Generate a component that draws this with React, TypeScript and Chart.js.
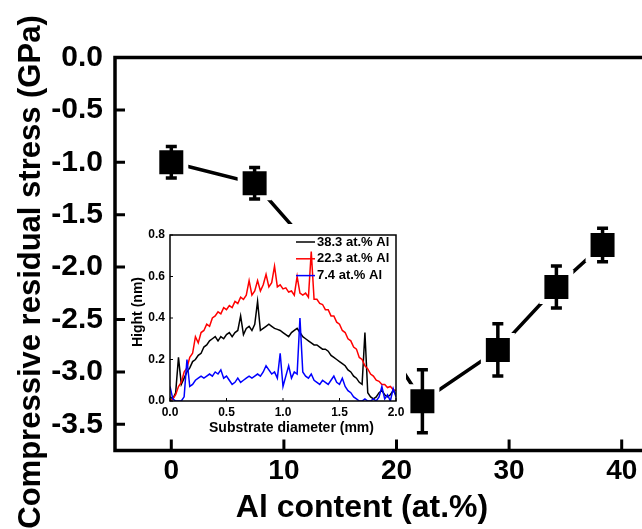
import React, { useEffect, useRef } from "react";
import { Chart, registerables } from "chart.js";

Chart.register(...registerables);

const FONT = "'Liberation Sans', Arial, Helvetica, sans-serif";

// Residual stress of the films against their Al content
const alContent = [0, 7.4, 16.4, 22.3, 29.0, 34.2, 38.3];
const stress = [-1.0, -1.2, -2.3, -3.28, -2.79, -2.19, -1.79];
const stressErr = [0.15, 0.15, 0.2, 0.3, 0.25, 0.2, 0.16];
const xTickValues = [0, 10, 20, 30, 40];
const yTickValues = [0, -0.5, -1.0, -1.5, -2.0, -2.5, -3.0, -3.5];

// Surface height profiles across the substrate (inset)
const diameterMm = [
  0, 0.025, 0.05, 0.075, 0.1, 0.125, 0.15, 0.175, 0.2, 0.225,
  0.25, 0.275, 0.3, 0.325, 0.35, 0.375, 0.4, 0.425, 0.45, 0.475,
  0.5, 0.525, 0.55, 0.575, 0.6, 0.625, 0.65, 0.675, 0.7, 0.725,
  0.75, 0.775, 0.8, 0.825, 0.85, 0.875, 0.9, 0.925, 0.95, 0.975,
  1.0, 1.025, 1.05, 1.075, 1.1, 1.125, 1.15, 1.175, 1.2, 1.225,
  1.25, 1.275, 1.3, 1.325, 1.35, 1.375, 1.4, 1.425, 1.45, 1.475,
  1.5, 1.525, 1.55, 1.575, 1.6, 1.625, 1.65, 1.675, 1.7, 1.725,
  1.75, 1.775, 1.8, 1.825, 1.85, 1.875, 1.9, 1.925, 1.95, 1.975,
  2.0,
];
const height383 = [
  0.02, 0.01, 0.04, 0.21, 0.08, 0.11, 0.14, 0.16, 0.19, 0.2,
  0.22, 0.23, 0.26, 0.27, 0.29, 0.3, 0.31, 0.29, 0.31, 0.3,
  0.32, 0.33, 0.31, 0.33, 0.34, 0.41, 0.32, 0.35, 0.36, 0.34,
  0.37, 0.48, 0.34, 0.35, 0.36, 0.37, 0.36, 0.35, 0.345, 0.34,
  0.33, 0.32, 0.31, 0.33, 0.34, 0.35, 0.33, 0.31, 0.3, 0.29,
  0.28, 0.27, 0.27, 0.26, 0.25, 0.25, 0.24, 0.22, 0.21, 0.2,
  0.19, 0.18, 0.17, 0.15, 0.14, 0.12, 0.11, 0.09, 0.08, 0.33,
  0.04, 0.02, 0.01, 0.02, 0.04, 0.05, 0.03, 0.02, 0.03, 0.05,
  0.03,
];
const height223 = [
  0.0, 0.01, 0.03, 0.07, 0.09, 0.14, 0.16, 0.21, 0.23, 0.31,
  0.28, 0.33, 0.34, 0.37, 0.36, 0.4, 0.41, 0.43, 0.42, 0.45,
  0.44, 0.46, 0.45, 0.48, 0.47, 0.5, 0.49, 0.51, 0.58, 0.51,
  0.53, 0.58, 0.53, 0.56, 0.61, 0.55, 0.57, 0.65, 0.55, 0.56,
  0.54, 0.545, 0.525, 0.53, 0.51, 0.6, 0.52, 0.51, 0.52, 0.5,
  0.72, 0.49, 0.49, 0.47, 0.465, 0.44, 0.44, 0.41, 0.41, 0.38,
  0.37, 0.34, 0.33, 0.3, 0.29, 0.26, 0.25, 0.21, 0.2, 0.17,
  0.155, 0.13, 0.12, 0.1, 0.095, 0.08, 0.08, 0.065, 0.07, 0.055,
  0.05,
];
const height74 = [
  0.07, 0.01, 0.0, 0.0, 0.0, 0.02, 0.2, 0.07, 0.08, 0.1,
  0.11, 0.12, 0.11, 0.12, 0.13, 0.12, 0.14, 0.13, 0.15, 0.11,
  0.12, 0.1, 0.08, 0.09, 0.11, 0.09, 0.1, 0.11, 0.12, 0.11,
  0.12, 0.13, 0.12, 0.14, 0.17, 0.15, 0.13, 0.14, 0.11, 0.23,
  0.07, 0.12, 0.17, 0.11, 0.14, 0.13, 0.4, 0.14, 0.12, 0.11,
  0.13, 0.1, 0.09, 0.08, 0.1, 0.09, 0.08, 0.1, 0.12, 0.09,
  0.08, 0.11, 0.07, 0.05, 0.04, 0.02, 0.01, 0.0, 0.0, 0.01,
  0.0, 0.0, 0.01, 0.0, 0.02, 0.07, 0.01, 0.03, 0.0, 0.06,
  0.02,
];
const insetXTicks = [0, 0.5, 1.0, 1.5, 2.0];
const insetYTicks = [0, 0.2, 0.4, 0.6, 0.8];
const profileLabels = ["38.3 at.% Al", "22.3 at.% Al", "7.4 at.% Al"];
const profileColors = ["#000000", "#ff0000", "#0000ff"];

// keep the plot area exactly where the layout padding puts it
const noScalePadding = (s: any) => {
  s.paddingLeft = 0;
  s.paddingRight = 0;
  s.paddingTop = 0;
  s.paddingBottom = 0;
};

const mainDecor = {
  id: "mainDecor",
  afterDatasetsDraw(chart: any) {
    const { ctx, scales } = chart;
    const xs = scales.x;
    const ys = scales.y;
    ctx.save();
    ctx.strokeStyle = "#000";
    ctx.lineWidth = 3.5;
    ctx.lineCap = "butt";
    for (let i = 0; i < alContent.length; i++) {
      const x = xs.getPixelForValue(alContent[i]);
      const yT = ys.getPixelForValue(stress[i] + stressErr[i]);
      const yB = ys.getPixelForValue(stress[i] - stressErr[i]);
      ctx.beginPath();
      ctx.moveTo(x, yT);
      ctx.lineTo(x, yB);
      ctx.moveTo(x - 5.5, yT);
      ctx.lineTo(x + 5.5, yT);
      ctx.moveTo(x - 5.5, yB);
      ctx.lineTo(x + 5.5, yB);
      ctx.stroke();
    }
    ctx.restore();
  },
  afterDraw(chart: any) {
    const { ctx, chartArea: a, scales } = chart;
    ctx.save();
    ctx.strokeStyle = "#000";
    ctx.lineWidth = 3.5;
    ctx.strokeRect(a.left, a.top, a.right - a.left, a.bottom - a.top);
    ctx.lineWidth = 3;
    ctx.beginPath();
    for (const t of scales.y.ticks) {
      const y = scales.y.getPixelForValue(t.value);
      ctx.moveTo(a.left, y);
      ctx.lineTo(a.left + 10, y);
    }
    for (const t of scales.x.ticks) {
      const x = scales.x.getPixelForValue(t.value);
      ctx.moveTo(x, a.bottom);
      ctx.lineTo(x, a.bottom - 11);
    }
    ctx.stroke();

    ctx.fillStyle = "#000";
    ctx.textAlign = "center";
    ctx.textBaseline = "middle";
    ctx.font = `bold 32px ${FONT}`;
    ctx.fillText("Al content (at.%)", 362, 508);
    ctx.translate(31, 272);
    ctx.rotate(-Math.PI / 2);
    ctx.font = `bold 31px ${FONT}`;
    ctx.fillText("Compressive residual stress (GPa)", 0, 0);
    ctx.restore();
  },
};

const insetDecor = {
  id: "insetDecor",
  afterDraw(chart: any) {
    const { ctx, chartArea: a, scales } = chart;
    ctx.save();
    ctx.strokeStyle = "#000";
    ctx.lineWidth = 1.5;
    ctx.strokeRect(a.left, a.top, a.right - a.left, a.bottom - a.top);
    ctx.lineWidth = 1;
    ctx.beginPath();
    for (const t of scales.y.ticks) {
      const y = scales.y.getPixelForValue(t.value);
      ctx.moveTo(a.left, y);
      ctx.lineTo(a.left + 3, y);
    }
    for (const t of scales.x.ticks) {
      const x = scales.x.getPixelForValue(t.value);
      ctx.moveTo(x, a.bottom);
      ctx.lineTo(x, a.bottom - 3);
    }
    ctx.stroke();

    ctx.fillStyle = "#000";
    ctx.textAlign = "center";
    ctx.textBaseline = "middle";
    ctx.font = `bold 14px ${FONT}`;
    ctx.fillText("Substrate diameter (mm)", 164.5, 204);

    // legend
    ctx.font = `bold 13px ${FONT}`;
    ctx.textAlign = "left";
    ctx.lineWidth = 1.5;
    profileLabels.forEach((label, i) => {
      const y = 18 + i * 16.8;
      ctx.strokeStyle = profileColors[i];
      ctx.beginPath();
      ctx.moveTo(169, y);
      ctx.lineTo(188, y);
      ctx.stroke();
      ctx.fillText(label, 190, y);
    });

    ctx.textAlign = "center";
    ctx.translate(11, 88);
    ctx.rotate(-Math.PI / 2);
    ctx.font = `bold 14px ${FONT}`;
    ctx.fillText("Hight (nm)", 0, 0);
    ctx.restore();
  },
};

export default function App() {
  const mainRef = useRef<HTMLCanvasElement>(null);
  const insetRef = useRef<HTMLCanvasElement>(null);

  useEffect(() => {
    const main = new Chart(mainRef.current as HTMLCanvasElement, {
      type: "line",
      data: {
        datasets: [
          {
            data: alContent.map((x, i) => ({ x, y: stress[i] })),
            borderColor: "#000",
            borderWidth: 3.5,
            tension: 0,
            pointStyle: "rect",
            pointRadius: 20.5,
            pointBackgroundColor: "#000",
            pointBorderColor: "#fff",
            pointBorderWidth: 5,
          },
        ],
      },
      options: {
        responsive: false,
        animation: false,
        devicePixelRatio: 1,
        layout: { autoPadding: false, padding: { top: 57.5, right: 12, left: 0, bottom: 0 } },
        plugins: { legend: { display: false }, tooltip: { enabled: false } },
        scales: {
          x: {
            type: "linear",
            min: -5,
            max: 45,
            grid: { display: false, drawTicks: false },
            border: { display: false },
            afterBuildTicks: (s: any) => {
              s.ticks = xTickValues.map((v) => ({ value: v }));
            },
            afterFit: (s: any) => {
              s.height = 78.5;
              noScalePadding(s);
            },
            ticks: {
              color: "#000",
              padding: 3.5,
              maxRotation: 0,
              font: { family: FONT, size: 28, weight: "bold" },
              callback: (v: any) => String(v),
            },
          },
          y: {
            type: "linear",
            min: -3.75,
            max: 0,
            grid: { display: false, drawTicks: false },
            border: { display: false },
            afterBuildTicks: (s: any) => {
              s.ticks = yTickValues.map((v) => ({ value: v }));
            },
            afterFit: (s: any) => {
              s.width = 115;
              noScalePadding(s);
            },
            ticks: {
              color: "#000",
              padding: 12,
              font: { family: FONT, size: 30, weight: "bold" },
              callback: (v: any) => (Math.abs(v) < 1e-9 ? "0.0" : Number(v).toFixed(1)),
            },
          },
        },
      },
      plugins: [mainDecor],
    } as any);

    const profiles = [height74, height223, height383];
    const profileColorOrder = [profileColors[2], profileColors[1], profileColors[0]];
    const inset = new Chart(insetRef.current as HTMLCanvasElement, {
      type: "line",
      data: {
        datasets: profiles.map((h, k) => ({
          data: diameterMm.map((x, i) => ({ x, y: h[i] })),
          borderColor: profileColorOrder[k],
          borderWidth: 1.5,
          pointRadius: 0,
          tension: 0,
        })),
      },
      options: {
        responsive: false,
        animation: false,
        devicePixelRatio: 1,
        layout: { autoPadding: false, padding: { top: 11, right: 10, left: 0, bottom: 0 } },
        plugins: { legend: { display: false }, tooltip: { enabled: false } },
        scales: {
          x: {
            type: "linear",
            min: 0,
            max: 2,
            grid: { display: false, drawTicks: false },
            border: { display: false },
            afterBuildTicks: (s: any) => {
              s.ticks = insetXTicks.map((v) => ({ value: v }));
            },
            afterFit: (s: any) => {
              s.height = 36;
              noScalePadding(s);
            },
            ticks: {
              color: "#000",
              padding: 4.5,
              maxRotation: 0,
              font: { family: FONT, size: 12, weight: "bold" },
              callback: (v: any) => Number(v).toFixed(1),
            },
          },
          y: {
            type: "linear",
            min: 0,
            max: 0.8,
            grid: { display: false, drawTicks: false },
            border: { display: false },
            afterBuildTicks: (s: any) => {
              s.ticks = insetYTicks.map((v) => ({ value: v }));
            },
            afterFit: (s: any) => {
              s.width = 43;
              noScalePadding(s);
            },
            ticks: {
              color: "#000",
              padding: 5,
              font: { family: FONT, size: 12, weight: "bold" },
              callback: (v: any) => Number(v).toFixed(1),
            },
          },
        },
      },
      plugins: [insetDecor],
    } as any);

    return () => {
      main.destroy();
      inset.destroy();
    };
  }, []);

  return (
    <div
      style={{
        position: "fixed",
        left: 0,
        top: 0,
        width: 642,
        height: 529,
        overflow: "hidden",
        background: "#fff",
      }}
    >
      <canvas
        ref={mainRef}
        width={690}
        height={529}
        style={{ position: "absolute", left: 0, top: 0 }}
      />
      <canvas
        ref={insetRef}
        width={279}
        height={213}
        style={{ position: "absolute", left: 127, top: 224, background: "#fff" }}
      />
    </div>
  );
}
